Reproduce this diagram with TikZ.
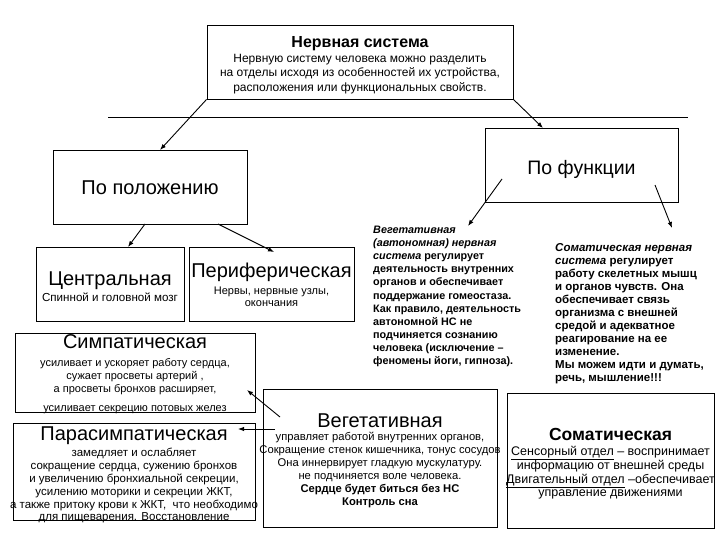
\documentclass[tikz,border=0pt]{standalone}
\usepackage{fontspec}
\setmainfont{Liberation Sans}
\usetikzlibrary{arrows.meta}
\tikzset{
  box/.style={draw=black, line width=0.8pt, inner sep=0pt},
  txt/.style={inner sep=0pt, anchor=base, align=center},
  mtxt/.style={inner sep=0pt, anchor=north, align=center},
  ltxt/.style={inner sep=0pt, anchor=north west, align=left},
  conn/.style={draw=black, line width=0.9pt, -{Latex[length=6pt,width=4.5pt]}},
  plain/.style={draw=black, line width=0.8pt}
}
\newcommand{\fs}[2]{\fontsize{#1}{#2}\selectfont}
\begin{document}
\begin{tikzpicture}[x=1pt,y=-1pt]
\useasboundingbox (0,0) rectangle (720,540);
% boxes
\node[box, minimum width=306pt, minimum height=74pt] (top) at (360,62) {};
\node[box, minimum width=194pt, minimum height=74pt] (pol) at (150,187) {};
\node[box, minimum width=193pt, minimum height=74pt] (fun) at (581.5,165) {};
\node[box, minimum width=148pt, minimum height=74pt] (cen) at (110,284) {};
\node[box, minimum width=165pt, minimum height=74pt] (per) at (271.5,284) {};
\node[box, minimum width=240pt, minimum height=79pt] (sym) at (135,372.5) {};
\node[box, minimum width=242pt, minimum height=97pt] (par) at (134,471.5) {};
\node[box, minimum width=234pt, minimum height=138pt] (veg) at (380,458) {};
\node[box, minimum width=207pt, minimum height=135pt] (som) at (610.5,460.5) {};
% texts
\node[txt, font=\fs{16}{18}\bfseries] (topt) at (360,48) {Нервная система};
\node[mtxt, font=\fs{12}{14.5}] (topb) at (360,54) {Нервную систему человека можно разделить\\на отделы исходя из особенностей их устройства,\\расположения или функциональных свойств.};
\node[txt, font=\fs{20}{22}] (polt) at (150,195) {По положению};
\node[txt, font=\fs{19.5}{22}] (funt) at (581.5,175) {По функции};
\node[txt, font=\fs{20}{22}] (cent) at (110,285) {Центральная};
\node[txt, font=\fs{11.6}{13}] (cenb) at (110,301) {Спинной и головной мозг};
\node[txt, font=\fs{20}{22}] (pert) at (271.5,277) {Периферическая};
\node[mtxt, font=\fs{11}{12}] (perb) at (271.5,286.8) {Нервы, нервные узлы,\\окончания};
\node[txt, font=\fs{20}{22}] (symt) at (135,348) {Симпатическая};
\node[mtxt, font=\fs{11}{13}] (symb) at (135,357.8) {усиливает и ускоряет работу сердца,\\сужает просветы артерий ,\\а просветы бронхов расширяет,};
\node[txt, font=\fs{11}{13}] (symc) at (135,411) {усиливает секрецию потовых желез};
\node[txt, font=\fs{20}{22}] (part) at (134,440) {Парасимпатическая};
\node[mtxt, font=\fs{11.5}{12.8}] (parb) at (134,448.3) {замедляет и ослабляет\\сокращение сердца, сужению бронхов\\и увеличению бронхиальной секреции,\\усилению моторики и секреции ЖКТ,\\а также притоку крови к ЖКТ,\ \ что необходимо\\для пищеварения. Восстановление};
\node[txt, font=\fs{20}{22}] (vegt) at (380,427) {Вегетативная};
\node[mtxt, font=\fs{11.2}{13}] (vegb) at (380,431.6) {управляет работой внутренних органов,\\Сокращение стенок кишечника, тонус сосудов\\Она иннервирует гладкую мускулатуру.\\не подчиняется воле человека.\\\bfseries Сердце будет биться без НС\\\bfseries Контроль сна};
\node[txt, font=\fs{17.5}{20}\bfseries] (somt) at (610.5,440) {Соматическая};
\node[mtxt, font=\fs{12.5}{13.5}] (somb) at (610.5,445.6) {\underline{Сенсорный отдел} -- воспринимает\\информацию от внешней среды\\\underline{Двигательный отдел} --обеспечивает\\управление движениями};
\node[ltxt, font=\fs{10.8}{13.1}\bfseries] (vegd) at (373,225.9) {\itshape Вегетативная\\\itshape (автономная) нервная\\{\itshape система} регулирует\\деятельность внутренних\\органов и обеспечивает\\поддержание гомеостаза.\\Как правило, деятельность\\автономной НС не\\подчиняется сознанию\\человека (исключение --\\феномены йоги, гипноза).};
\node[ltxt, font=\fs{11.5}{13}\bfseries] (somd) at (555,243.4) {\itshape Соматическая нервная\\{\itshape система} регулирует\\работу скелетных мышц\\и органов чувств. Она\\обеспечивает связь\\организма с внешней\\средой и адекватное\\реагирование на ее\\изменение.\\Мы можем идти и думать,\\речь, мышление!!!};
% connector end points
\coordinate (l1) at (108,117);
\coordinate (l2) at (688,117);
\coordinate (a1e) at (160,150);
\coordinate (a2e) at (543,128);
\coordinate (a3s) at (145,224);
\coordinate (a3e) at (128,247);
\coordinate (a4s) at (218,224);
\coordinate (a4e) at (274,252);
\coordinate (a5s) at (502,179);
\coordinate (a5e) at (468,226);
\coordinate (a6s) at (655,185);
\coordinate (a6e) at (672,228);
\coordinate (a7s) at (280,417);
\coordinate (a7e) at (247,390);
\coordinate (a8s) at (275,429);
\coordinate (a8e) at (238,429);
% connectors
\draw[plain] (l1) -- (l2);
\draw[conn] (top.south west) -- (a1e);
\draw[conn] (top.south east) -- (a2e);
\draw[conn] (a3s) -- (a3e);
\draw[conn] (a4s) -- (a4e);
\draw[conn] (a5s) -- (a5e);
\draw[conn] (a6s) -- (a6e);
\draw[conn] (a7s) -- (a7e);
\draw[conn] (a8s) -- (a8e);
\end{tikzpicture}
\end{document}
